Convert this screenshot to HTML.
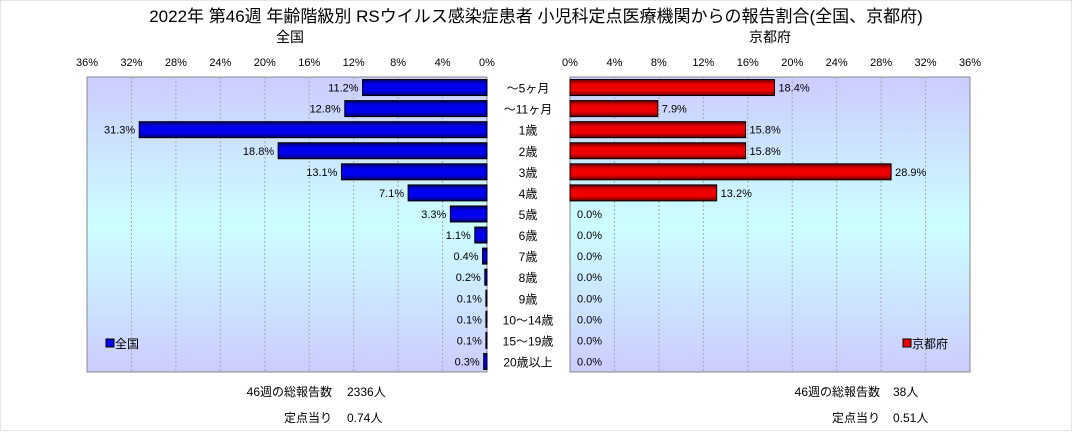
<!DOCTYPE html>
<html><head><meta charset="utf-8">
<style>
body{margin:0;background:#fff;font-family:"Liberation Sans","Noto Sans CJK JP",sans-serif;}
svg text{font-family:"Liberation Sans","Noto Sans CJK JP",sans-serif;}
</style></head>
<body>
<svg id="c" width="1072" height="431" xmlns="http://www.w3.org/2000/svg">
<defs>
<linearGradient id="bg" x1="0" y1="0" x2="0" y2="1">
<stop offset="0" stop-color="#ccccff"/><stop offset="0.5" stop-color="#ccffff"/><stop offset="1" stop-color="#ccccff"/>
</linearGradient>
<linearGradient id="gb" x1="0" y1="0" x2="0" y2="1">
<stop offset="0" stop-color="#000066"/><stop offset="0.3" stop-color="#0000ee"/><stop offset="0.7" stop-color="#0000ee"/><stop offset="1" stop-color="#000066"/>
</linearGradient>
<linearGradient id="gr" x1="0" y1="0" x2="0" y2="1">
<stop offset="0" stop-color="#660000"/><stop offset="0.3" stop-color="#ee0000"/><stop offset="0.7" stop-color="#ee0000"/><stop offset="1" stop-color="#660000"/>
</linearGradient>
</defs>
<rect x="0" y="0" width="1072" height="431" fill="#fff" stroke="#ccc"/>
<text x="536" y="22" font-size="17" text-anchor="middle">2022年 第46週 年齢階級別 RSウイルス感染症患者 小児科定点医療機関からの報告割合(全国、京都府)</text>
<text x="290" y="42" font-size="14" text-anchor="middle">全国</text>
<text x="770" y="42" font-size="14" text-anchor="middle">京都府</text>
<g id="g"></g>
<rect x="106" y="339" width="8" height="8" fill="#0000ee" stroke="#000"/>
<text x="115" y="348" font-size="12">全国</text>
<rect x="903" y="339" width="8" height="8" fill="#ee0000" stroke="#000"/>
<text x="912" y="348" font-size="12">京都府</text>
<text x="332" y="396" font-size="12" text-anchor="end">46週の総報告数</text>
<text x="347" y="396" font-size="12">2336人</text>
<text x="332" y="422" font-size="12" text-anchor="end">定点当り</text>
<text x="347" y="422" font-size="12">0.74人</text>
<text x="880" y="396" font-size="12" text-anchor="end">46週の総報告数</text>
<text x="893" y="396" font-size="12">38人</text>
<text x="880" y="422" font-size="12" text-anchor="end">定点当り</text>
<text x="893" y="422" font-size="12">0.51人</text>
</svg>
<script>
const categories=["～5ヶ月","～11ヶ月","1歳","2歳","3歳","4歳","5歳","6歳","7歳","8歳","9歳","10～14歳","15～19歳","20歳以上"];
const nationalValues=[11.2,12.8,31.3,18.8,13.1,7.1,3.3,1.1,0.4,0.2,0.1,0.1,0.1,0.3];
const kyotoValues=[18.4,7.9,15.8,15.8,28.9,13.2,0,0,0,0,0,0,0,0];
const tickValues=[0,4,8,12,16,20,24,28,32,36];
const NS="http://www.w3.org/2000/svg";
const g=document.getElementById('g');
const top0=77,bot0=372,maxV=36,W=400;
const lZero=487,rZero=570;
const pitch=(bot0-top0)/categories.length;
function xl(v){return lZero-v/maxV*W;}
function xr(v){return rZero+v/maxV*W;}
function yc(i){return top0+pitch*(i+0.5);}
function mk(tag,a){const e=document.createElementNS(NS,tag);for(const k in a)e.setAttribute(k,a[k]);g.appendChild(e);return e;}
// backgrounds
let e=mk('rect',{x:xl(maxV),y:top0,width:W,height:bot0-top0,fill:'url(#bg)',stroke:'#888'});


e=mk('rect',{x:rZero,y:top0,width:W,height:bot0-top0,fill:'url(#bg)',stroke:'#888'});


tickValues.forEach(t=>{
  if(t>0&&t<maxV){
    e=mk('line',{x1:xl(t),x2:xl(t),y1:top0,y2:bot0,stroke:'#aaa','stroke-dasharray':'2,2'});
    
    
    e=mk('line',{x1:xr(t),x2:xr(t),y1:top0,y2:bot0,stroke:'#aaa','stroke-dasharray':'2,2'});
    
    
  }
  e=mk('text',{x:xl(t),y:66,'font-size':11,'text-anchor':'middle'});e.textContent=t+'%';
  
  
  e=mk('text',{x:xr(t),y:66,'font-size':11,'text-anchor':'middle'});e.textContent=t+'%';
  
  
});
const bh=16;
categories.forEach((c,i)=>{
  const y=yc(i);
  e=mk('text',{x:528,y:y+5,'font-size':12,'text-anchor':'middle'});e.textContent=c;
  
  
  const v=nationalValues[i];
  if(v>0){
    e=mk('rect',{x:xl(v),y:y-bh/2,width:lZero-xl(v),height:bh,fill:'url(#gb)',stroke:'#000','stroke-width':1});
    
    
  }
  e=mk('text',{x:xl(v)-4,y:y+4,'font-size':11,'text-anchor':'end'});e.textContent=v.toFixed(1)+'%';
  
  
  const k=kyotoValues[i];
  if(k>0){
    e=mk('rect',{x:rZero,y:y-bh/2,width:xr(k)-rZero,height:bh,fill:'url(#gr)',stroke:'#000','stroke-width':1});
    
    
  }
  e=mk('text',{x:xr(k)+(k>0?4:7),y:y+4,'font-size':11});e.textContent=k.toFixed(1)+'%';
  
  
});
</script>
</body></html>
